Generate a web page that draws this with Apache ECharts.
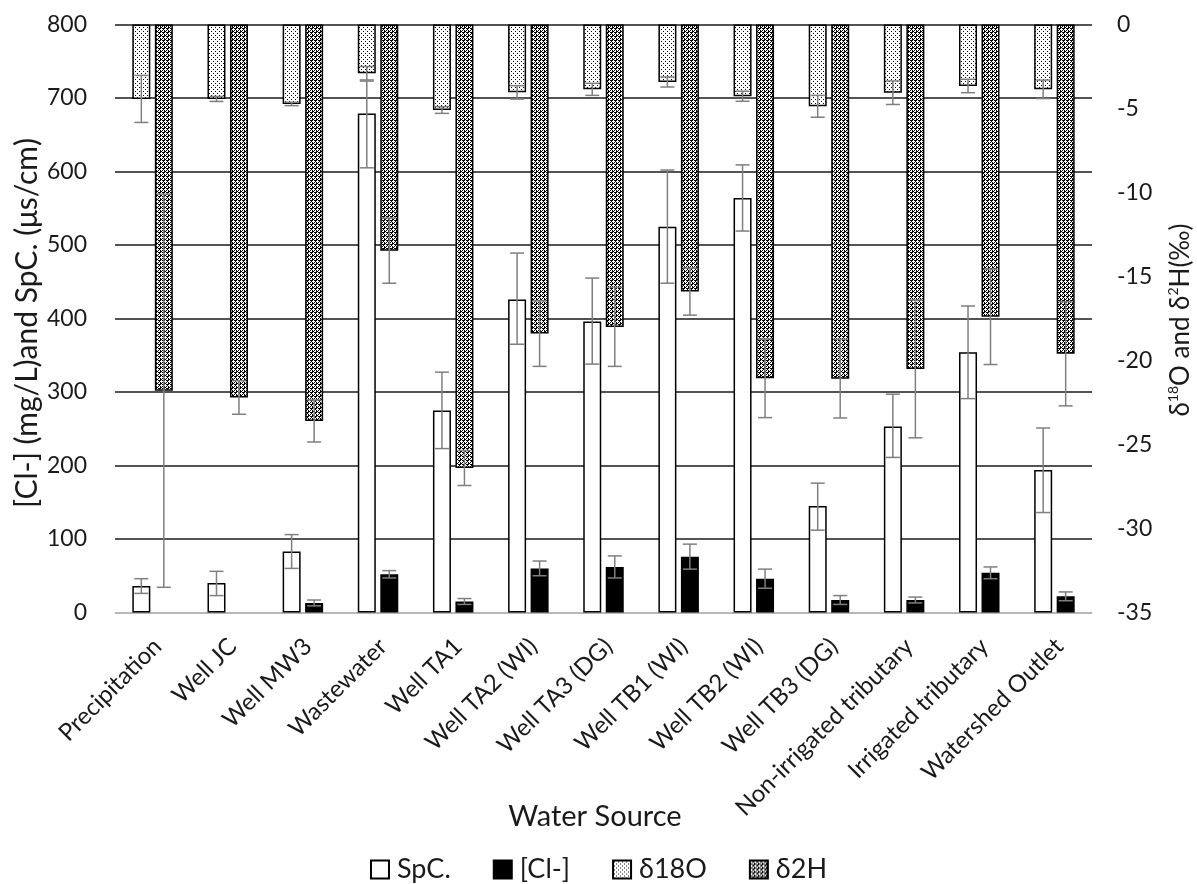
<!DOCTYPE html>
<html>
<head>
<meta charset="utf-8">
<script src="https://cdn.jsdelivr.net/npm/echarts@6/dist/echarts.min.js"></script>
<style>
html,body{margin:0;padding:0;background:#fff;}
#chart{width:1197px;height:884px;}
</style>
</head>
<body>
<div id="chart"></div>
<script>
// ---------------- data ----------------
var categories = ['Precipitation','Well JC','Well MW3','Wastewater','Well TA1','Well TA2 (WI)','Well TA3 (DG)','Well TB1 (WI)','Well TB2 (WI)','Well TB3 (DG)','Non-irrigated tributary','Irrigated tributary','Watershed Outlet'];
var spc        = [36, 40, 83, 679, 275, 426, 396, 525, 564, 145, 253, 354, 194];
var spcErrUp   = [10, 16, 23, 44, 52, 63, 59, 77, 45, 31, 44, 63, 57];
var spcErrDown = [10, 17, 23, 74, 52, 61, 58, 77, 45, 33, 42, 63, 58];
var cl         = [null, null, 13, 52, 15, 60, 62, 76, 46, 17, 17, 54, 22];
var clErr      = [0, 0, 4, 5, 4, 10, 15, 17, 13, 6, 4, 8, 6];
var d18O       = [-4.43, -4.43, -4.73, -2.9, -5.09, -4.04, -3.86, -3.42, -4.27, -4.87, -4.06, -3.66, -3.86];
var d18OErr    = [1.4, 0.15, 0.1, 0.4, 0.2, 0.4, 0.36, 0.3, 0.3, 0.65, 0.7, 0.4, 0.55];
var d2H        = [-21.8, -22.2, -23.6, -13.46, -26.4, -18.4, -18.0, -15.9, -21.06, -21.08, -20.5, -17.4, -19.6];
var d2HErr     = [11.7, 1.0, 1.25, 1.94, 1.04, 1.95, 2.35, 1.4, 2.34, 2.34, 4.1, 2.84, 3.1];
var leftTicks  = {min: 0, max: 800, interval: 100};
var rightTicks = {min: -35, max: 0, interval: 5};
var seriesNames = ['SpC.', '[Cl-]', 'δ18O', 'δ2H'];
var leftTitle = '[Cl-] (mg/L)and SpC. (μs/cm)';
var xTitle = 'Water Source';

// ---------------- patterns ----------------
function makePattern(rows) {
  var c = document.createElement('canvas');
  c.width = rows[0].length; c.height = rows.length;
  var g = c.getContext('2d');
  for (var y = 0; y < rows.length; y++) {
    for (var x = 0; x < rows[y].length; x++) {
      g.fillStyle = rows[y][x] === 'B' ? '#000000' : '#ffffff';
      g.fillRect(x, y, 1, 1);
    }
  }
  return {image: c, repeat: 'repeat'};
}
var dotPattern = makePattern(['WWWW', 'WBWW', 'WWWW', 'WWWB']);
var crossPattern = makePattern(['BWBB', 'WWWB', 'BWBW', 'BBWW']);

var FONT = 'Lato';
var INK = '#1a1a1a';
var BAR_W = 18, BAR_GAP = 4.5;
var OFF = (BAR_W + BAR_GAP) / 2;

function errSeries(name, xi, yi, values, up, down, side) {
  var data = values.map(function (v, i) {
    if (v === null || (up[i] === 0 && down[i] === 0)) return [i, 0, 0, 0];
    return [i, v, v - down[i], v + up[i]];
  });
  return {
    type: 'custom',
    name: name + ' err',
    xAxisIndex: xi, yAxisIndex: yi,
    z: 10, silent: true,
    data: data,
    renderItem: function (params, api) {
      var lo = api.value(2), hi = api.value(3);
      if (lo === hi) return null;
      var i = api.value(0);
      var pLo = api.coord([i, lo]);
      var pHi = api.coord([i, hi]);
      var x = pLo[0] + side * OFF;
      var cw = 7;
      var st = {stroke: '#7f7f7f', lineWidth: 1.5};
      return {
        type: 'group',
        children: [
          {type: 'line', shape: {x1: x, y1: pLo[1], x2: x, y2: pHi[1]}, style: st},
          {type: 'line', shape: {x1: x - cw, y1: pLo[1], x2: x + cw, y2: pLo[1]}, style: st},
          {type: 'line', shape: {x1: x - cw, y1: pHi[1], x2: x + cw, y2: pHi[1]}, style: st}
        ]
      };
    }
  };
}

var chart = echarts.init(document.getElementById('chart'), null, {renderer: 'canvas'});
var barCommon = {type: 'bar', barWidth: BAR_W, barGap: (BAR_GAP / BAR_W * 100) + '%'};

chart.setOption({
  animation: false,
  backgroundColor: '#ffffff',
  textStyle: {fontFamily: FONT},
  grid: {left: 115, right: 105, top: 24.5, bottom: 271.5},
  title: {
    text: xTitle, left: 590, top: 797, textAlign: 'center',
    textStyle: {fontFamily: FONT, fontSize: 29, fontWeight: 'normal', color: INK}
  },
  graphic: [
    {
      type: 'text', x: 27, y: 323, rotation: Math.PI / 2,
      style: {text: leftTitle, font: '30px ' + FONT, fill: INK, align: 'center', verticalAlign: 'middle'}
    },
    {
      type: 'text', x: 1180, y: 320, rotation: Math.PI / 2,
      style: {
        text: '{a|δ}{s|18}{a|O and δ}{s|2}{a|H(‰)}',
        align: 'center', verticalAlign: 'middle',
        rich: {
          a: {fontFamily: FONT, fontSize: 26, fill: INK, lineHeight: 28, verticalAlign: 'bottom'},
          s: {fontFamily: FONT, fontSize: 14, fill: INK, lineHeight: 28, verticalAlign: 'top'}
        }
      }
    }
  ],
  legend: {
    top: 851, left: 'center',
    itemWidth: 18, itemHeight: 18, itemGap: 42,
    textStyle: {fontFamily: FONT, fontSize: 27, color: INK, padding: [0, 0, 0, 3]},
    data: seriesNames.map(function (n) { return {name: n, icon: 'rect'}; })
  },
  xAxis: [
    {
      type: 'category', data: categories,
      axisLine: {lineStyle: {color: '#d9d9d9', width: 1.5}},
      axisTick: {show: false},
      axisLabel: {interval: 0, rotate: 45, margin: 18, padding: [0, 5, 0, 0],
        align: 'right', verticalAlign: 'top',
        fontFamily: FONT, fontSize: 24, color: INK}
    },
    {type: 'category', data: categories, show: false, position: 'bottom'}
  ],
  yAxis: [
    {
      type: 'value', min: leftTicks.min, max: leftTicks.max, interval: leftTicks.interval,
      axisLine: {show: false}, axisTick: {show: false},
      axisLabel: {margin: 28, fontFamily: FONT, fontSize: 23, color: INK},
      splitLine: {lineStyle: {color: INK, width: 1.5}}
    },
    {
      type: 'value', position: 'right', min: rightTicks.min, max: rightTicks.max, interval: rightTicks.interval,
      axisLine: {show: false}, axisTick: {show: false},
      axisLabel: {margin: 25, fontFamily: FONT, fontSize: 23, color: INK},
      splitLine: {show: false}
    }
  ],
  series: [
    Object.assign({}, barCommon, {
      name: seriesNames[0], xAxisIndex: 0, yAxisIndex: 0, data: spc,
      itemStyle: {color: '#ffffff', borderColor: '#000000', borderWidth: 1.5}
    }),
    Object.assign({}, barCommon, {
      name: seriesNames[1], xAxisIndex: 0, yAxisIndex: 0, data: cl,
      itemStyle: {color: '#000000', borderColor: '#000000', borderWidth: 1.5}
    }),
    Object.assign({}, barCommon, {
      name: seriesNames[2], xAxisIndex: 1, yAxisIndex: 1, data: d18O,
      itemStyle: {color: dotPattern, borderColor: '#000000', borderWidth: 1.5}
    }),
    Object.assign({}, barCommon, {
      name: seriesNames[3], xAxisIndex: 1, yAxisIndex: 1, data: d2H,
      itemStyle: {color: crossPattern, borderColor: '#000000', borderWidth: 1.5}
    }),
    errSeries(seriesNames[0], 0, 0, spc, spcErrUp, spcErrDown, -1),
    errSeries(seriesNames[1], 0, 0, cl, clErr, clErr, 1),
    errSeries(seriesNames[2], 1, 1, d18O, d18OErr, d18OErr, -1),
    errSeries(seriesNames[3], 1, 1, d2H, d2HErr, d2HErr, 1)
  ]
});
</script>
</body>
</html>
